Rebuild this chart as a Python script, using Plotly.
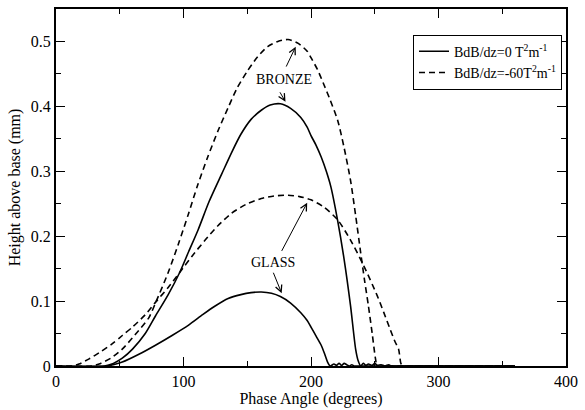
import plotly.graph_objects as go

# Glass, BdB/dz = 0 (solid)
glass_solid_x = [0, 40, 45, 52, 65, 78, 91, 104, 115, 124.5, 135, 145, 153, 161, 169, 176, 184, 192, 197, 200, 204, 208, 211, 213, 215, 218, 220, 222, 224, 226, 228, 230, 232, 234, 240, 280, 320, 360]
glass_solid_y = [0, 0, 0.002, 0.006, 0.018, 0.032, 0.047, 0.063, 0.079, 0.092, 0.104, 0.110, 0.113, 0.114, 0.112, 0.107, 0.097, 0.082, 0.070, 0.060, 0.046, 0.032, 0.017, 0.006, 0, 0.003, 0.001, 0.004, 0.001, 0.004, 0.002, 0.0, 0.002, 0, 0, 0, 0, 0]

# Bronze, BdB/dz = 0 (solid)
bronze_solid_x = [0, 38, 45, 52, 60, 70, 78, 88, 97, 104, 111.5, 120, 130, 138, 145, 153, 161, 168, 176, 184, 192, 197, 200, 204, 208, 212, 215.6, 220.8, 226, 231, 235, 237, 239, 241, 243, 245, 248, 250, 252, 255, 258, 261, 263, 270, 300, 330, 360]
bronze_solid_y = [0, 0, 0.004, 0.012, 0.026, 0.050, 0.077, 0.110, 0.144, 0.176, 0.210, 0.253, 0.296, 0.330, 0.357, 0.380, 0.394, 0.402, 0.404, 0.397, 0.383, 0.368, 0.355, 0.340, 0.322, 0.300, 0.276, 0.225, 0.164, 0.093, 0.026, 0.008, 0, 0.004, 0.001, 0.003, 0.001, 0.004, 0.001, 0.002, 0.0, 0.002, 0, 0, 0, 0, 0]

# Bronze, BdB/dz = -60 (dashed)
bronze_dash_x = [0, 28, 35, 43, 52, 62, 73, 78, 88, 96, 104, 111, 119, 127, 135, 142, 150, 158, 166, 174, 182, 190, 197, 200, 205, 210, 215, 221, 226, 231, 235, 239, 242, 245, 248, 250.6, 252, 260, 300, 330, 360]
bronze_dash_y = [0, 0, 0.004, 0.012, 0.026, 0.048, 0.075, 0.097, 0.144, 0.188, 0.235, 0.278, 0.322, 0.362, 0.398, 0.428, 0.454, 0.476, 0.492, 0.500, 0.503, 0.497, 0.485, 0.475, 0.457, 0.434, 0.410, 0.378, 0.336, 0.286, 0.232, 0.174, 0.132, 0.093, 0.050, 0.011, 0, 0, 0, 0, 0]

# Glass, BdB/dz = -60 (dashed)
glass_dash_x = [0, 12, 18, 26, 35, 44, 52, 60, 70, 78, 88, 97, 107, 117, 127, 137.5, 149, 161, 171, 182, 191, 200, 210, 221, 231, 241.5, 252, 257, 262, 266, 268.7, 270.5, 272, 280, 310, 340, 360]
glass_dash_y = [0, 0, 0.003, 0.011, 0.022, 0.034, 0.047, 0.060, 0.079, 0.098, 0.121, 0.144, 0.170, 0.194, 0.216, 0.235, 0.249, 0.258, 0.262, 0.263, 0.261, 0.256, 0.245, 0.225, 0.194, 0.154, 0.108, 0.083, 0.057, 0.037, 0.026, 0.004, 0, 0, 0, 0, 0]

x_ticks = [0, 100, 200, 300, 400]
y_ticks = [0, 0.1, 0.2, 0.3, 0.4, 0.5]

label_solid = "BdB/dz=0 T<sup>2</sup>m<sup>-1</sup>"
label_dash = "BdB/dz=-60T<sup>2</sup>m<sup>-1</sup>"

FONT = "Liberation Serif"
DASH = "6px,4px"
LINE_SHAPE = dict(shape="spline", smoothing=0.7)

fig = go.Figure()
fig.add_trace(go.Scatter(x=bronze_solid_x, y=bronze_solid_y, mode="lines", name=label_solid,
                         line=dict(color="black", width=1.6, **LINE_SHAPE), legendgroup="s"))
fig.add_trace(go.Scatter(x=bronze_dash_x, y=bronze_dash_y, mode="lines", name=label_dash,
                         line=dict(color="black", width=1.6, dash=DASH, **LINE_SHAPE), legendgroup="d"))
fig.add_trace(go.Scatter(x=glass_solid_x, y=glass_solid_y, mode="lines", showlegend=False,
                         line=dict(color="black", width=1.6, **LINE_SHAPE), legendgroup="s"))
fig.add_trace(go.Scatter(x=glass_dash_x, y=glass_dash_y, mode="lines", showlegend=False,
                         line=dict(color="black", width=1.6, dash=DASH, **LINE_SHAPE), legendgroup="d"))

ann_font = dict(family=FONT, size=14, color="black")
annotations = [
    dict(x=179, y=0.441, text="BRONZE", showarrow=False, font=ann_font),
    dict(x=170, y=0.160, text="GLASS", showarrow=False, font=ann_font),
]
arrows = [
    ((180, 0.459), (188, 0.492)),
    ((175, 0.424), (180, 0.407)),
    ((176.4, 0.175), (197, 0.2515)),
    ((170, 0.146), (177, 0.112)),
]
for (tx, ty), (hx, hy) in arrows:
    annotations.append(dict(x=hx, y=hy, ax=tx, ay=ty, axref="x", ayref="y", xref="x", yref="y",
                            text="", showarrow=True, arrowhead=5, arrowsize=1.3, arrowwidth=1,
                            arrowcolor="black", standoff=0, startstandoff=0))

axis_common = dict(
    showline=True, linecolor="black", linewidth=2, mirror="ticks",
    ticks="inside", ticklen=9, tickwidth=1.2, tickcolor="black",
    showgrid=False, zeroline=False,
    tickfont=dict(family=FONT, size=16, color="black"),
)

fig.update_xaxes(range=[0, 400], tickvals=x_ticks, ticktext=[str(v) for v in x_ticks],
                 minor=dict(ticks="inside", ticklen=5, tickwidth=1.2, tickcolor="black", dtick=50, tick0=0, showgrid=False),
                 title=dict(text="Phase Angle (degrees)", font=dict(family=FONT, size=16, color="black"), standoff=2),
                 **axis_common)
fig.update_yaxes(range=[0, 0.55], tickvals=y_ticks, ticktext=["0", "0.1", "0.2", "0.3", "0.4", "0.5"],
                 minor=dict(ticks="inside", ticklen=5, tickwidth=1.2, tickcolor="black", dtick=0.05, tick0=0, showgrid=False),
                 title=dict(text="Height above base (mm)", font=dict(family=FONT, size=16, color="black"), standoff=6),
                 **axis_common)

fig.update_layout(
    width=585, height=410,
    margin=dict(l=56, r=15, t=7, b=41),
    plot_bgcolor="white", paper_bgcolor="white",
    font=dict(family=FONT, size=14, color="black"),
    showlegend=True,
    legend=dict(x=0.70, y=0.928, xanchor="left", yanchor="top",
                bordercolor="black", borderwidth=1, bgcolor="white",
                font=dict(family=FONT, size=14, color="black"),
                tracegroupgap=0, itemwidth=30),
    annotations=annotations,
)

fig.write_html("out.html")
